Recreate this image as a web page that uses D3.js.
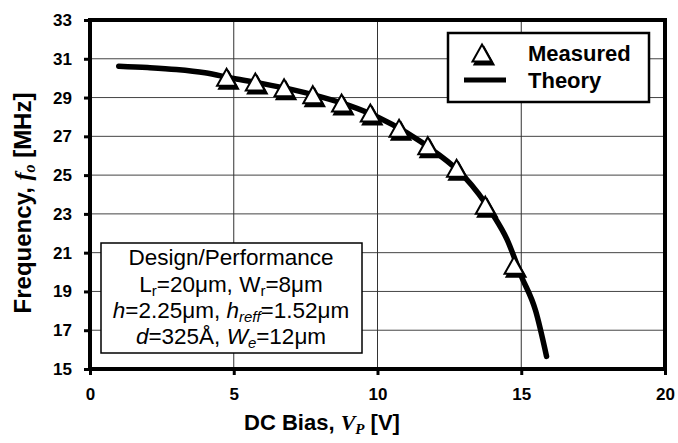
<!DOCTYPE html>
<html>
<head>
<meta charset="utf-8">
<script src="https://cdn.jsdelivr.net/npm/d3@7"></script>
<style>
  html, body { margin: 0; padding: 0; background: #fff; }
  svg { display: block; font-family: "Liberation Sans", Arial, sans-serif; }
</style>
</head>
<body>
<svg id="chart" width="678" height="443"></svg>
<script>
// measured resonance frequency vs. DC bias
const measuredV = [4.75, 5.75, 6.75, 7.75, 8.75, 9.75, 10.75, 11.75, 12.75, 13.75, 14.75];
const measuredF = [30.05, 29.8, 29.5, 29.15, 28.72, 28.2, 27.42, 26.52, 25.35, 23.45, 20.35];

// theory curve
const theoryV = [1, 2, 3, 4, 5, 6, 7, 8, 9, 10, 11, 12, 13, 14, 14.5, 15, 15.5, 15.88];
const theoryF = [30.62, 30.55, 30.45, 30.28, 29.98, 29.72, 29.42, 29.05, 28.6, 28.0, 27.2, 26.2, 24.95, 23.0, 21.7, 19.8, 18.0, 15.65];

const xTicks = [0, 5, 10, 15, 20];
const yTicks = [15, 17, 19, 21, 23, 25, 27, 29, 31, 33];

const svg = d3.select("#chart");
const mLeft = 90, mRight = 665, mTop = 20, mBottom = 369;

const x = d3.scaleLinear().domain([0, 20]).range([mLeft, mRight]);
const y = d3.scaleLinear().domain([15, 33]).range([mBottom, mTop]);

// gridlines
svg.append("g").selectAll("line").data(yTicks.slice(1, -1)).join("line")
  .attr("x1", mLeft).attr("x2", mRight)
  .attr("y1", d => y(d)).attr("y2", d => y(d))
  .attr("stroke", "#444").attr("stroke-width", 1);
svg.append("g").selectAll("line").data(xTicks.slice(1, -1)).join("line")
  .attr("y1", mTop).attr("y2", mBottom)
  .attr("x1", d => x(d)).attr("x2", d => x(d))
  .attr("stroke", "#333").attr("stroke-width", 1);

// axes (ticks outward, thick)
const yAxis = svg.append("g").attr("transform", `translate(${mLeft},0)`)
  .call(d3.axisLeft(y).tickValues(yTicks).tickSize(6).tickPadding(12));
const xAxis = svg.append("g").attr("transform", `translate(0,${mBottom})`)
  .call(d3.axisBottom(x).tickValues(xTicks).tickSize(6).tickPadding(13));
for (const ax of [xAxis, yAxis]) {
  ax.select(".domain").remove();
  ax.selectAll(".tick line").attr("stroke", "#000").attr("stroke-width", 3);
  ax.selectAll(".tick text").attr("fill", "#000").attr("font-size", 17)
    .attr("font-weight", "bold").attr("font-family", "Liberation Sans, Arial, sans-serif");
}

// plot frame
svg.append("rect")
  .attr("x", mLeft).attr("y", mTop)
  .attr("width", mRight - mLeft).attr("height", mBottom - mTop)
  .attr("fill", "none").attr("stroke", "#000").attr("stroke-width", 4);

// theory line
const line = d3.line().x(d => x(d[0])).y(d => y(d[1])).curve(d3.curveMonotoneX);
svg.append("path")
  .datum(d3.zip(theoryV, theoryF))
  .attr("d", line)
  .attr("fill", "none").attr("stroke", "#000").attr("stroke-width", 5.5)
  .attr("stroke-linecap", "round").attr("stroke-linejoin", "round");

// triangle marker with drop shadow
const tri = (cx, cy, g) => {
  const w = 19, h = 17;
  const pts = (dx, dy) => [[cx + dx, cy - h / 2 + dy], [cx + w / 2 + dx, cy + h / 2 + dy], [cx - w / 2 + dx, cy + h / 2 + dy]].join(" ");
  g.append("polygon").attr("points", pts(2, 3)).attr("fill", "#000").attr("stroke", "#000").attr("stroke-width", 2);
  g.append("polygon").attr("points", pts(0, 0)).attr("fill", "#fff").attr("stroke", "#000").attr("stroke-width", 2);
};
const markers = svg.append("g");
measuredV.forEach((v, i) => tri(x(v), y(measuredF[i]), markers));

// legend
const lg = svg.append("g");
lg.append("rect").attr("x", 448).attr("y", 33).attr("width", 201).attr("height", 69)
  .attr("fill", "#fff").attr("stroke", "#000").attr("stroke-width", 2.5);
tri(482, 53, lg);
lg.append("line").attr("x1", 464).attr("x2", 506).attr("y1", 80).attr("y2", 80)
  .attr("stroke", "#000").attr("stroke-width", 5);
lg.append("text").attr("x", 528).attr("y", 61).attr("font-size", 22).attr("font-weight", "bold").text("Measured");
lg.append("text").attr("x", 528).attr("y", 88).attr("font-size", 22).attr("font-weight", "bold").text("Theory");

// design/performance box
const db = svg.append("g");
db.append("rect").attr("x", 101).attr("y", 243).attr("width", 261).attr("height", 110)
  .attr("fill", "#fff").attr("stroke", "#000").attr("stroke-width", 1.5);
const dLines = [
  [["Design/Performance"]],
  [["L"], ["r", "sub"], ["=20\u03bcm, W"], ["r", "sub"], ["=8\u03bcm"]],
  [["h", "it"], ["=2.25\u03bcm, "], ["h", "it"], ["reff", "subit"], ["=1.52\u03bcm"]],
  [["d", "it"], ["=325\u00c5, "], ["W", "it"], ["e", "subit"], ["=12\u03bcm"]],
];
const baselines = [265, 292, 318, 344];
dLines.forEach((parts, i) => {
  const t = db.append("text").attr("x", 231).attr("y", baselines[i])
    .attr("text-anchor", "middle").attr("font-size", 22.5);
  let shifted = false;
  parts.forEach(([s, k]) => {
    const ts = t.append("tspan").text(s);
    const sub = k && k.startsWith("sub");
    if (k && k.endsWith("it")) ts.attr("font-style", "italic");
    if (sub && !shifted) { ts.attr("dy", 4).attr("font-size", 15); shifted = true; }
    else if (sub) ts.attr("font-size", 15);
    else if (shifted) { ts.attr("dy", -4); shifted = false; }
  });
});

// axis titles
const xt = svg.append("text").attr("x", 322).attr("y", 430).attr("text-anchor", "middle")
  .attr("font-size", 22).attr("font-weight", "bold");
xt.append("tspan").text("DC Bias, ");
xt.append("tspan").text("V").attr("font-family", "Liberation Serif, Times New Roman, serif").attr("font-style", "italic");
xt.append("tspan").text("P").attr("font-family", "Liberation Serif, Times New Roman, serif").attr("font-style", "italic")
  .attr("font-size", 15).attr("dy", 4);
xt.append("tspan").text(" [V]").attr("dy", -4);

const yt = svg.append("text").attr("transform", "translate(31,203) rotate(-90)").attr("text-anchor", "middle")
  .attr("font-size", 24).attr("font-weight", "bold");
yt.append("tspan").text("Frequency, ");
yt.append("tspan").text("f").attr("font-family", "Liberation Serif, Times New Roman, serif").attr("font-style", "italic");
yt.append("tspan").text("o").attr("font-family", "Liberation Serif, Times New Roman, serif").attr("font-style", "italic")
  .attr("font-size", 16).attr("dy", 4);
yt.append("tspan").text(" [MHz]").attr("dy", -4);
</script>
</body>
</html>
